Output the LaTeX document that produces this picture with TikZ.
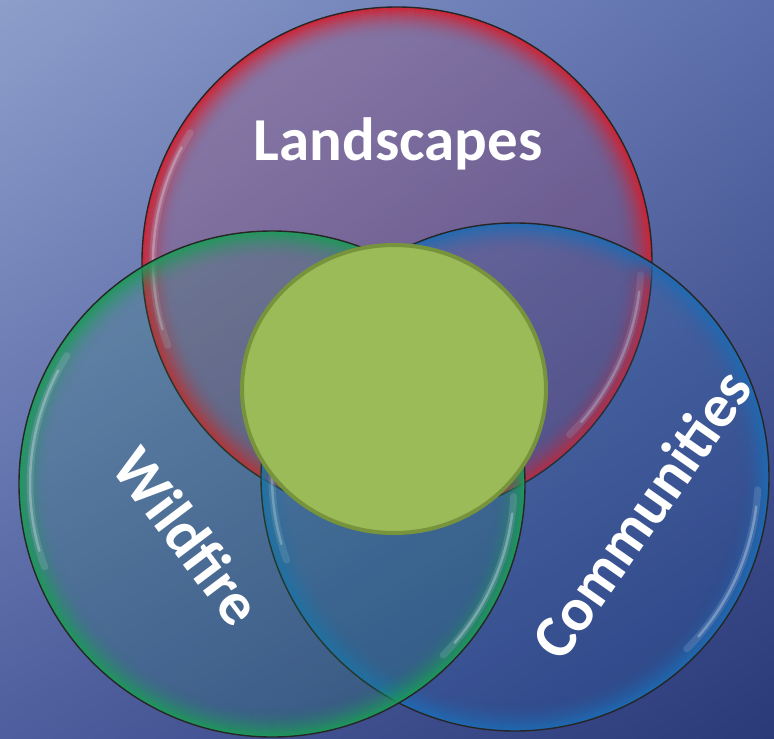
\documentclass[tikz,border=0pt]{standalone}
\usepackage{fontspec}
\setmainfont{Carlito}
\usetikzlibrary{positioning, shadings}

\definecolor{bgtl}{HTML}{8E9ECB}
\definecolor{bgtr}{HTML}{5C6EAC}
\definecolor{bgbl}{HTML}{4E5E9E}
\definecolor{bgbr}{HTML}{2A3978}
\definecolor{landred}{HTML}{D3202F}
\definecolor{firegreen}{HTML}{1C9A58}
\definecolor{commblue}{HTML}{1E6BB3}
\definecolor{coregreen}{HTML}{9BBB59}
\definecolor{coreline}{HTML}{77933C}
\definecolor{shine}{HTML}{DDE4F4}

% one glassy bubble: centre, radius, colour
\newcommand{\vennbubble}[3]{%
  \fill[#3, fill opacity=0.16] (#1) circle (#2);
  \foreach \k in {0,...,14}{%
    \pgfmathsetmacro{\op}{0.9*(1-\k/15)^2}
    \draw[#3, line width=2.2pt, draw opacity=\op] (#1) circle ({#2-1.1-2*\k});
  }
  \foreach \a/\b in {148/200, -45/-3}{%
    \draw[shine, line width=7pt, draw opacity=0.15, line cap=round]
      ([shift={(\a:#2-11)}]#1) arc (\a:\b:#2-11);
    \draw[shine, line width=2.5pt, draw opacity=0.35, line cap=round]
      ([shift={(\a+4:#2-11)}]#1) arc (\a+4:\b-4:#2-11);
  }
  \draw[black!85, line width=1.4pt] (#1) circle (#2);
}

\begin{document}
\begin{tikzpicture}[
    x=1pt, y=1pt,
    venntext/.style={text=white, font=\bfseries\fontsize{61}{61}\selectfont, inner sep=0pt}
]
\useasboundingbox (0,0) rectangle (774,-739);

% background
\shade[upper left=bgtl, upper right=bgtr, lower left=bgbl, lower right=bgbr]
  (0,0) rectangle (774,-739);

% circle centres
\coordinate (landc) at (397,-262);
\coordinate (commc) at (515,-477);
\coordinate (firec) at (272,-484);

\vennbubble{landc}{255}{landred}
\vennbubble{commc}{254}{commblue}
\vennbubble{firec}{253}{firegreen}

% centre overlap
\fill[coregreen, draw=coreline, line width=4pt] (394,-389) ellipse (152 and 144);

\node[venntext, anchor=base] (landscapes) at (398,-160) {Landscapes};
\node[venntext, rotate=-53] (wildfire) at (188,-536) {Wildfire};
\node[venntext, rotate=55] (communities) at (641,-514) {Communities};

\end{tikzpicture}
\end{document}
